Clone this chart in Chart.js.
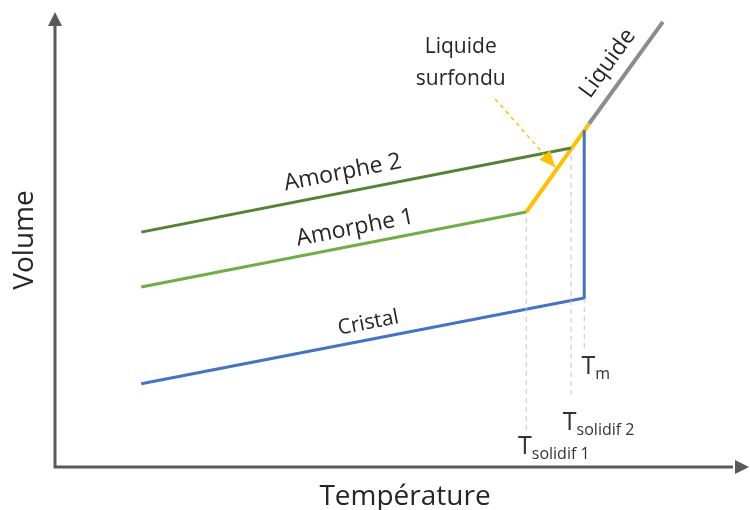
<!DOCTYPE html>
<html>
<head>
<meta charset="utf-8">
<script src="https://cdn.jsdelivr.net/npm/chart.js@4/dist/chart.umd.min.js"></script>
<style>
  html, body { margin: 0; padding: 0; background: #fff; }
  #wrap { width: 750px; height: 510px; position: relative; }
</style>
</head>
<body>
<div id="wrap"><canvas id="volumeChart"></canvas></div>
<script>
// temperature / volume values, arbitrary units (0-100)
const cristal = [{ x: 12.5, y: 18.2 }, { x: 76.7, y: 37.0 }, { x: 76.7, y: 73.7 }];
const amorphe1 = [{ x: 12.5, y: 39.4 }, { x: 68.3, y: 55.8 }];
const amorphe2 = [{ x: 12.5, y: 51.4 }, { x: 74.8, y: 69.8 }];
const surfondu = [{ x: 68.3, y: 55.8 }, { x: 77.4, y: 75.1 }];
const liquide = [{ x: 77.4, y: 75.1 }, { x: 88.1, y: 97.4 }];
const tempMarks = [68.3, 74.8, 76.7];          // T solidif 1, T solidif 2, Tm
const markTop = [55.8, 69.8, 37.0];
const markBottom = [8.1, 15.8, 26.0];
const surfonduPointer = [{ x: 63.8, y: 80.5 }, { x: 72.5, y: 65.6 }];

const textColor = '#262626';
const fontFamily = '"Open Sans", "Noto Sans", sans-serif';

const guides = tempMarks.map((t, i) => ({
    data: [{ x: t, y: markBottom[i] }, { x: t, y: markTop[i] }],
    borderColor: '#c4c4c4',
    borderWidth: 1,
    borderDash: [5, 4]
}));

const decorations = {
    id: 'decorations',
    afterDatasetsDraw(chart) {
        const ctx = chart.ctx;
        const xs = chart.scales.x, ys = chart.scales.y;
        const area = chart.chartArea;
        const px = (x, y) => [xs.getPixelForValue(x), ys.getPixelForValue(y)];
        const angleOf = (pts) => {
            const a = px(pts[0].x, pts[0].y), b = px(pts[pts.length - 1].x, pts[pts.length - 1].y);
            return Math.atan2(b[1] - a[1], b[0] - a[0]);
        };

        ctx.save();
        // axes with arrow heads
        ctx.strokeStyle = '#595959';
        ctx.fillStyle = '#595959';
        ctx.lineWidth = 3;
        ctx.beginPath();
        ctx.moveTo(area.left, area.top + 14);
        ctx.lineTo(area.left, area.bottom);
        ctx.lineTo(area.right - 12, area.bottom);
        ctx.stroke();
        ctx.beginPath();
        ctx.moveTo(area.left, area.top + 2);
        ctx.lineTo(area.left - 7, area.top + 16);
        ctx.lineTo(area.left + 7, area.top + 16);
        ctx.fill();
        ctx.beginPath();
        ctx.moveTo(area.right + 4, area.bottom);
        ctx.lineTo(area.right - 10, area.bottom - 7);
        ctx.lineTo(area.right - 10, area.bottom + 7);
        ctx.fill();

        // arrow head of the "liquide surfondu" pointer
        const tip = px(surfonduPointer[1].x, surfonduPointer[1].y);
        const ang = angleOf(surfonduPointer);
        ctx.fillStyle = '#FFC000';
        ctx.translate(tip[0], tip[1]);
        ctx.rotate(ang);
        ctx.beginPath();
        ctx.moveTo(0, 0);
        ctx.lineTo(-16, -7);
        ctx.lineTo(-16, 7);
        ctx.fill();
        ctx.setTransform(1, 0, 0, 1, 0, 0);

        // labels along the curves
        ctx.fillStyle = textColor;
        ctx.textAlign = 'center';
        ctx.textBaseline = 'middle';
        const along = (text, x, y, pts, size) => {
            const p = px(x, y);
            ctx.save();
            ctx.translate(p[0], p[1]);
            ctx.rotate(angleOf(pts));
            ctx.font = size + 'px ' + fontFamily;
            ctx.fillText(text, 0, 0);
            ctx.restore();
        };
        along('Amorphe 2', 41.7, 64.4, amorphe2, 23);
        along('Amorphe 1', 43.5, 52.3, amorphe1, 23);
        along('Cristal', 45.4, 31.5, cristal.slice(0, 2), 21);
        along('Liquide', 80.1, 88.3, liquide, 23);

        ctx.textBaseline = 'alphabetic';
        ctx.font = '21px ' + fontFamily;
        let p = px(58.8, 90.6);
        ctx.fillText('Liquide', p[0], p[1]);
        p = px(58.8, 83.6);
        ctx.fillText('surfondu', p[0], p[1]);

        // temperature marks with subscripts
        ctx.textAlign = 'left';
        ctx.fillStyle = '#333';
        const mark = (sub, x, y) => {
            const q = px(x, y);
            ctx.font = '25px ' + fontFamily;
            ctx.fillText('T', q[0], q[1]);
            const w = ctx.measureText('T').width;
            ctx.font = '16px ' + fontFamily;
            ctx.fillText(sub, q[0] + w, q[1] + 5);
        };
        mark('m', 76.3, 20.4);
        mark('solidif 2', 73.6, 8.1);
        mark('solidif 1', 67.1, 2.8);

        // axis titles
        ctx.fillStyle = textColor;
        ctx.textAlign = 'center';
        ctx.font = '28px ' + fontFamily;
        ctx.fillText('Température', (area.left + area.right) / 2 + 5, area.bottom + 38);
        ctx.save();
        ctx.translate(area.left - 30, 240);
        ctx.rotate(-Math.PI / 2);
        ctx.textBaseline = 'middle';
        ctx.fillText('Volume', 0, 0);
        ctx.restore();
        ctx.restore();
    }
};

const ctx = document.getElementById('volumeChart').getContext('2d');

new Chart(ctx, {
    type: 'scatter',
    data: {
        datasets: [
            ...guides,
            { data: surfonduPointer, borderColor: '#FFC000', borderWidth: 1.5, borderDash: [4, 4] },
            { label: 'Cristal', data: cristal, borderColor: '#4472C4', borderWidth: 3 },
            { label: 'Amorphe 1', data: amorphe1, borderColor: '#70AD47', borderWidth: 3 },
            { label: 'Amorphe 2', data: amorphe2, borderColor: '#548235', borderWidth: 3 },
            { label: 'Liquide', data: liquide, borderColor: '#8c8c8c', borderWidth: 4 },
            { label: 'Liquide surfondu', data: surfondu, borderColor: '#FFC000', borderWidth: 4 }
        ].map(d => Object.assign({ showLine: true, pointRadius: 0, fill: false, clip: false }, d))
    },
    options: {
        responsive: true,
        maintainAspectRatio: false,
        animation: false,
        layout: { padding: { left: 55, right: 5, top: 10, bottom: 43 } },
        plugins: {
            legend: { display: false },
            tooltip: { enabled: false }
        },
        scales: {
            x: { type: 'linear', min: 0, max: 100, display: false },
            y: { type: 'linear', min: 0, max: 100, display: false }
        }
    },
    plugins: [decorations]
});
</script>
</body>
</html>
